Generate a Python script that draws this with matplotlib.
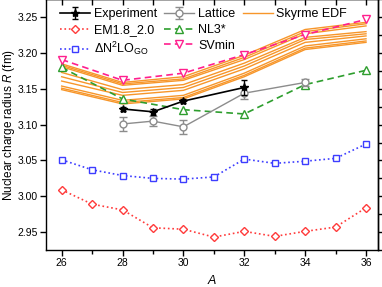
import numpy as np
import matplotlib
matplotlib.use('Agg')
import matplotlib.pyplot as plt
from matplotlib.ticker import MultipleLocator
from matplotlib.lines import Line2D

from matplotlib import rcParams
rcParams['font.family'] = ['Liberation Sans', 'DejaVu Sans']
rcParams['font.size'] = 9
rcParams['mathtext.fontset'] = 'custom'
rcParams['mathtext.rm'] = 'Liberation Sans'
rcParams['mathtext.it'] = 'Liberation Sans:italic'
rcParams['axes.linewidth'] = 1.0

# data
A_exp = [28, 29, 30, 32]
R_exp = [3.122, 3.118, 3.133, 3.152]
E_exp = [0.003, 0.004, 0.003, 0.010]

A_lat = [28, 29, 30, 32, 34]
R_lat = [3.101, 3.105, 3.097, 3.144, 3.159]
E_lat = [0.010, 0.007, 0.010, 0.008, 0.005]

A_ab = [26, 27, 28, 29, 30, 31, 32, 33, 34, 35, 36]
R_em = [3.009, 2.989, 2.981, 2.956, 2.954, 2.943, 2.951, 2.944, 2.951, 2.957, 2.984]
R_go = [3.051, 3.037, 3.029, 3.025, 3.024, 3.027, 3.052, 3.046, 3.049, 3.053, 3.073]

A_rmf = [26, 28, 30, 32, 34, 36]
R_nl3 = [3.180, 3.136, 3.121, 3.115, 3.156, 3.176]
R_svmin = [3.191, 3.162, 3.172, 3.198, 3.226, 3.247]

A_sky = [26, 28, 30, 32, 34, 36]
R_sky = [
	[3.185, 3.159, 3.167, 3.197, 3.233, 3.243],
	[3.183, 3.157, 3.164, 3.194, 3.230, 3.241],
	[3.181, 3.155, 3.162, 3.191, 3.227, 3.238],
	[3.173, 3.149, 3.156, 3.186, 3.222, 3.230],
	[3.167, 3.145, 3.152, 3.182, 3.219, 3.227],
	[3.161, 3.141, 3.148, 3.178, 3.215, 3.224],
	[3.154, 3.134, 3.141, 3.172, 3.210, 3.220],
	[3.151, 3.131, 3.138, 3.169, 3.207, 3.217],
	[3.149, 3.129, 3.136, 3.167, 3.205, 3.215],
]

orange = '#F7962A'

fig = plt.figure(figsize=(3.82, 2.87), dpi=100)
ax = fig.add_axes([0.120, 0.129, 0.870, 0.873])

# Skyrme EDF band
for i, r in enumerate(R_sky):
	ax.plot(A_sky, r, color=orange, lw=1.0, zorder=2,
		label='Skyrme EDF' if i == 0 else None)

ax.plot(A_ab, R_em, ls=':', color='#FF3B3B', lw=1.2, marker='D', ms=4,
	mfc='white', mec='#FF3B3B', mew=1.0, label='EM1.8_2.0', zorder=3)
ax.plot(A_ab, R_go, ls=':', color='#3D3DFF', lw=1.2, marker='s', ms=4,
	mfc='white', mec='#3D3DFF', mew=1.0, label=r'$\Delta$N$^2$LO$_{\mathrm{GO}}$', zorder=3)
ax.errorbar(A_lat, R_lat, yerr=E_lat, color='#8C8C8C', lw=1.0, marker='o', ms=5,
	mfc='white', mec='#8C8C8C', mew=1.0, capsize=3, capthick=1.0,
	elinewidth=1.0, label='Lattice', zorder=4)
ax.plot(A_rmf, R_nl3, ls=(0, (4, 2.5)), color='#2E9E2E', lw=1.2, marker='^', ms=5.5,
	mfc='white', mec='#2E9E2E', mew=1.0, label='NL3*', zorder=3)
ax.plot(A_rmf, R_svmin, ls=(0, (4, 2.5)), color='#FF1F8E', lw=1.2, marker='v', ms=5.5,
	mfc='white', mec='#FF1F8E', mew=1.0, label='SVmin', zorder=3)
ax.errorbar(A_exp, R_exp, yerr=E_exp, color='black', lw=1.2, marker='*', ms=6,
	capsize=2.5, capthick=1.0, elinewidth=1.0, label='Experiment', zorder=5)

ax.set_xlim(25.48, 36.4)
ax.set_ylim(2.925, 3.275)

ax.xaxis.set_major_locator(MultipleLocator(2))
ax.xaxis.set_minor_locator(MultipleLocator(1))
ax.yaxis.set_major_locator(MultipleLocator(0.05))
ax.yaxis.set_major_formatter(plt.FormatStrFormatter('%.2f'))
ax.tick_params(which='both', direction='out', length=4, width=1.0,
	labelsize=7.5, pad=2, top=False, right=False)
ax.tick_params(which='minor', length=3)

top = ax.secondary_xaxis('top')
top.xaxis.set_major_locator(MultipleLocator(1))
top.tick_params(direction='in', length=4, width=1.0, labeltop=False)
right = ax.secondary_yaxis('right')
right.yaxis.set_major_locator(MultipleLocator(0.025))
right.tick_params(direction='out', length=4, width=1.0, labelright=False)

ax.set_xlabel(r'$A$', labelpad=4)
ax.set_ylabel(r'Nuclear charge radius $R$ (fm)', fontsize=8.5)
ax.yaxis.set_label_coords(-0.088, 0.5)

h, l = ax.get_legend_handles_labels()
order = ['Experiment', 'EM1.8_2.0', r'$\Delta$N$^2$LO$_{\mathrm{GO}}$',
	'Lattice', 'NL3*', 'SVmin', 'Skyrme EDF']
hd = dict(zip(l, h))
handles = [hd[k] for k in order] + [Line2D([], [], lw=0)]
ax.legend(handles, order + [''], ncol=3, loc='upper left',
	bbox_to_anchor=(0.042, 0.965), frameon=False, fontsize=9,
	handlelength=2.4, handletextpad=0.3, columnspacing=0.6,
	labelspacing=0.3, borderaxespad=0.0, borderpad=0.0)

plt.savefig('out.png', dpi=100)
